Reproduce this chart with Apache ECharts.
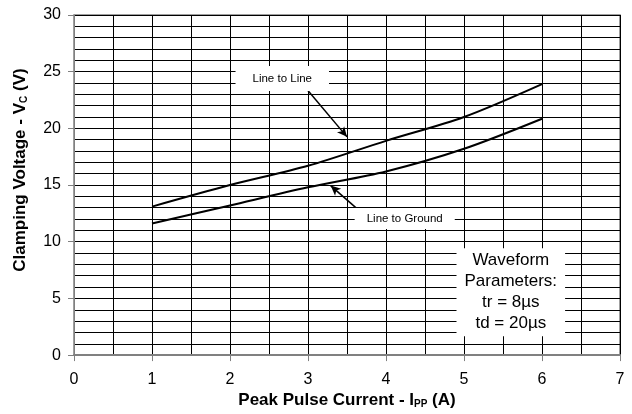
<!DOCTYPE html>
<html><head><meta charset="utf-8">
<script src="https://cdn.jsdelivr.net/npm/echarts@6/dist/echarts.min.js"></script>
<style>html,body{margin:0;padding:0;background:#fff}#c{width:632px;height:414px}</style>
</head><body><div id="c"></div>
<script>
const currents = [1, 2, 3, 4, 5, 6];
const lineToLine = [13.1, 15.0, 16.7, 18.9, 21.0, 23.9];
const lineToGround = [11.6, 13.2, 14.8, 16.2, 18.2, 20.85];
const xTicks = [0, 1, 2, 3, 4, 5, 6, 7];
const yTicks = [0, 5, 10, 15, 20, 25, 30];
const llLabel = 'Line to Line';
const llLabelAt = [2.67, 24.4];
const llArrow = [[2.98, 23.5], [3.5, 19.25]];
const lgLabel = 'Line to Ground';
const lgLabelAt = [4.24, 12.05];
const lgArrow = [[3.69, 12.55], [3.29, 14.95]];
const waveText = ['Waveform', 'Parameters:', 'tr = 8\u00b5s', 'td = 20\u00b5s'];
const waveAt = [5.6, 5.55];

const font = 'Liberation Sans, Arial, sans-serif';
const chart = echarts.init(document.getElementById('c'), null, {renderer: 'canvas'});

function labelPoint(coord, text, pad, fs, lh) {
  return {
    coord: coord, symbol: 'circle', symbolSize: 2,
    itemStyle: {color: 'rgba(0,0,0,0)'},
    label: {show: true, position: 'inside', formatter: text, color: '#000',
      fontFamily: font, fontSize: fs, lineHeight: lh, backgroundColor: '#fff', padding: pad, align: 'center', verticalAlign: 'middle'}
  };
}

const subStyle = {fontFamily: font, fontSize: 10, fontWeight: 'bold', color: '#000', padding: [7, 0, 0, 0]};

chart.setOption({
  animation: false,
  grid: {left: 74, right: 12, top: 15, bottom: 53, show: true, borderColor: '#808080', borderWidth: 1.5},
  xAxis: {
    type: 'value', min: xTicks[0], max: xTicks[xTicks.length - 1], interval: 1,
    name: 'Peak Pulse Current - I{sub|PP} (A)', nameLocation: 'middle', nameGap: 34,
    nameTextStyle: {fontFamily: font, fontSize: 17, fontWeight: 'bold', color: '#000', rich: {sub: subStyle}},
    axisLine: {show: true, onZero: false, lineStyle: {color: '#808080', width: 2}},
    axisTick: {show: true, length: 6, lineStyle: {color: '#808080', width: 1}},
    axisLabel: {fontFamily: font, fontSize: 16, color: '#000', margin: 16},
    splitLine: {show: true, lineStyle: {color: '#000', width: 1}},
    minorTick: {show: false, splitNumber: 2},
    minorSplitLine: {show: true, lineStyle: {color: '#000', width: 1}}
  },
  yAxis: {
    type: 'value', min: yTicks[0], max: yTicks[yTicks.length - 1], interval: 5,
    name: 'Clamping Voltage - V{sub|C} (V)', nameLocation: 'middle', nameGap: 45,
    nameTextStyle: {fontFamily: font, fontSize: 17, fontWeight: 'bold', color: '#000', padding: [0, 0, 0, 30], rich: {sub: subStyle}},
    axisLine: {show: true, onZero: false, lineStyle: {color: '#808080', width: 1}},
    axisTick: {show: true, length: 6, lineStyle: {color: '#808080', width: 1}},
    axisLabel: {fontFamily: font, fontSize: 16, color: '#000', margin: 13},
    splitLine: {show: true, lineStyle: {color: '#000', width: 1}},
    minorTick: {show: false, splitNumber: 5},
    minorSplitLine: {show: true, lineStyle: {color: '#000', width: 1}}
  },
  series: [
    {
      name: 'Line to Line', type: 'line', smooth: 0.3, symbol: 'none',
      data: currents.map((x, i) => [x, lineToLine[i]]),
      lineStyle: {color: '#000', width: 2},
      markLine: {silent: true, symbol: ['none', 'arrow'], symbolSize: [7, 10], animation: false,
        label: {show: false}, lineStyle: {color: '#000', width: 1.5, type: 'solid'},
        data: [[{coord: llArrow[0]}, {coord: llArrow[1]}], [{coord: lgArrow[0]}, {coord: lgArrow[1]}]]},
      markPoint: {silent: true, animation: false,
        data: [labelPoint(llLabelAt, llLabel, [6, 17], 11.5, 13),
               labelPoint(lgLabelAt, lgLabel, [4, 12], 11.5, 13),
               labelPoint(waveAt, waveText.join('\n'), [2, 8], 17, 21)]}
    },
    {
      name: 'Line to Ground', type: 'line', smooth: 0.3, symbol: 'none',
      data: currents.map((x, i) => [x, lineToGround[i]]),
      lineStyle: {color: '#000', width: 2}
    }
  ]
});
</script>
</body></html>
